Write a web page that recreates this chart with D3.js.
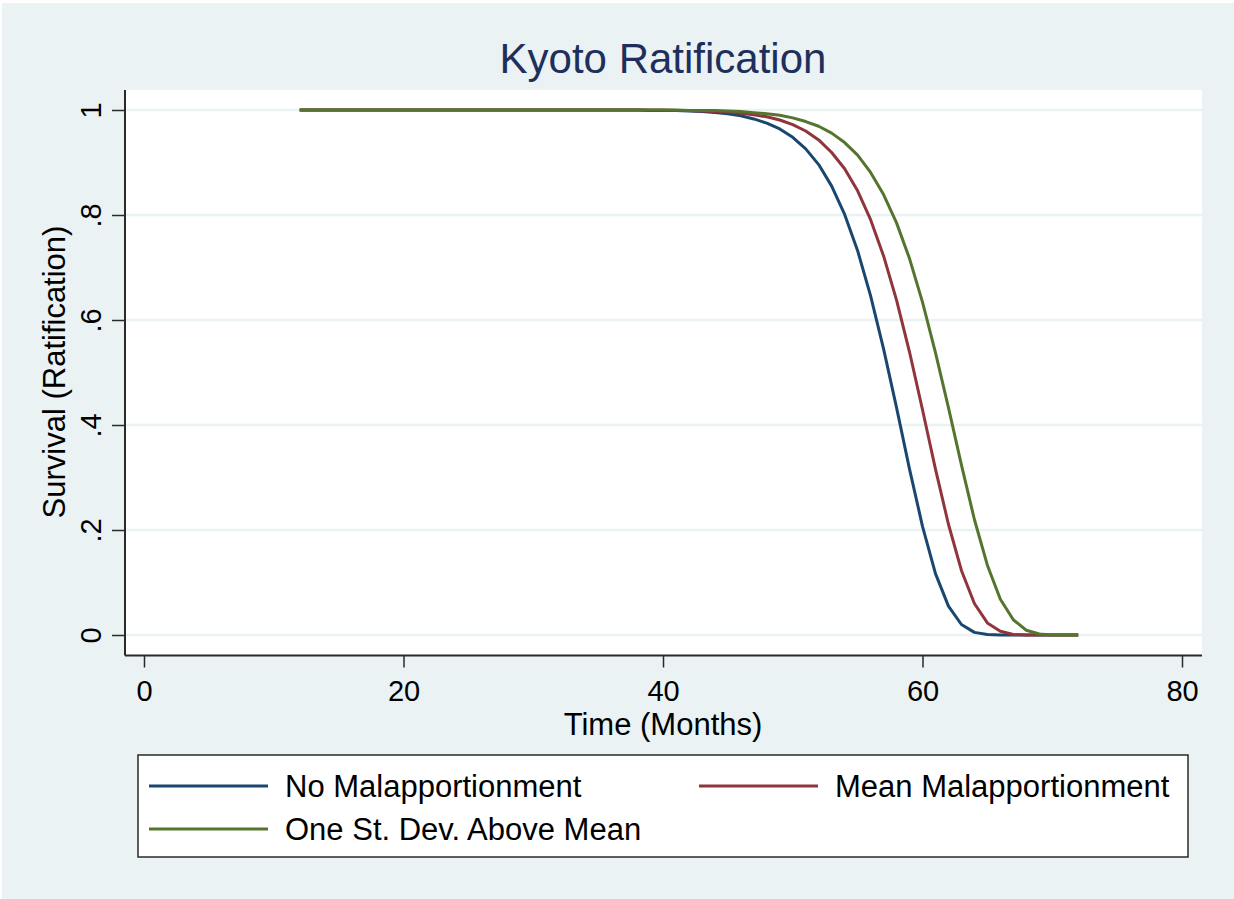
<!DOCTYPE html>
<html>
<head>
<meta charset="utf-8">
<script src="https://cdn.jsdelivr.net/npm/d3@7"></script>
<style>
  body { margin: 0; background: #fff; }
  text { font-family: "Liberation Sans", Arial, sans-serif; }
</style>
</head>
<body>
<svg id="chart" width="1234" height="899"></svg>
<script>
// months on the x axis (one point per month, 12..72)
var months = [12, 13, 14, 15, 16, 17, 18, 19, 20, 21, 22, 23, 24, 25, 26, 27, 28, 29, 30, 31,
  32, 33, 34, 35, 36, 37, 38, 39, 40, 41, 42, 43, 44, 45, 46, 47, 48, 49, 50, 51,
  52, 53, 54, 55, 56, 57, 58, 59, 60, 61, 62, 63, 64, 65, 66, 67, 68, 69, 70, 71, 72];

// survival, months 12..39 are flat at 1
var noMal = [1, 1, 1, 1, 1, 1, 1, 1, 1, 1, 1, 1, 1, 1, 1, 1, 1, 1, 1, 1,
  1, 1, 1, 1, 1, 1, 1, 0.999, 0.999, 0.999, 0.998, 0.997, 0.995, 0.993, 0.989, 0.983, 0.975, 0.964, 0.948, 0.926,
  0.896, 0.855, 0.801, 0.732, 0.646, 0.545, 0.433, 0.316, 0.207, 0.117, 0.055, 0.020, 0.005, 0.001, 0, 0, 0, 0, 0, 0, 0];
var meanMal = [1, 1, 1, 1, 1, 1, 1, 1, 1, 1, 1, 1, 1, 1, 1, 1, 1, 1, 1, 1,
  1, 1, 1, 1, 1, 1, 1, 1, 1, 0.999, 0.999, 0.998, 0.997, 0.996, 0.994, 0.991, 0.987, 0.981, 0.972, 0.960,
  0.943, 0.919, 0.888, 0.846, 0.791, 0.722, 0.638, 0.539, 0.429, 0.316, 0.211, 0.123, 0.060, 0.023, 0.007, 0.001, 0, 0, 0, 0, 0];
var oneSd = [1, 1, 1, 1, 1, 1, 1, 1, 1, 1, 1, 1, 1, 1, 1, 1, 1, 1, 1, 1,
  1, 1, 1, 1, 1, 1, 1, 1, 1, 1, 0.999, 0.999, 0.999, 0.998, 0.997, 0.995, 0.993, 0.990, 0.985, 0.978,
  0.969, 0.956, 0.938, 0.914, 0.881, 0.839, 0.785, 0.717, 0.634, 0.538, 0.433, 0.324, 0.220, 0.133, 0.068, 0.029, 0.009, 0.002, 0, 0, 0];

var seriesNames = ['No Malapportionment', 'Mean Malapportionment', 'One St. Dev. Above Mean'];
var seriesColors = ['#1a476f', '#90353b', '#55752f'];
var xTicks = [0, 20, 40, 60, 80];
var yTicks = [0, 0.2, 0.4, 0.6, 0.8, 1];
var yTickLabels = ['0', '.2', '.4', '.6', '.8', '1'];

const svg = d3.select('#chart');
const bg = '#eaf2f3';

// graph region
svg.append('rect').attr('x', 2).attr('y', 3).attr('width', 1232).attr('height', 896).attr('fill', bg);

// plot region
const plot = { left: 125, right: 1202, top: 90, bottom: 655.5 };
svg.append('rect')
  .attr('x', plot.left).attr('y', plot.top)
  .attr('width', plot.right - plot.left).attr('height', plot.bottom - plot.top)
  .attr('fill', '#fff');

const x = d3.scaleLinear().domain([0, 80]).range([144, 1182]);
const y = d3.scaleLinear().domain([0, 1]).range([635, 110]);

// gridlines
svg.append('g').selectAll('line')
  .data(yTicks)
  .join('line')
  .attr('x1', plot.left).attr('x2', plot.right)
  .attr('y1', d => y(d)).attr('y2', d => y(d))
  .attr('stroke', bg).attr('stroke-width', 2.5);

// lines
const line = d3.line().x((d, i) => x(months[i])).y(d => y(d));
[noMal, meanMal, oneSd].forEach((s, k) => {
  svg.append('path')
    .attr('d', line(s))
    .attr('fill', 'none')
    .attr('stroke', seriesColors[k])
    .attr('stroke-width', 3)
    .attr('stroke-linejoin', 'round');
});

// axes
const axisColor = '#2a2a2a';
const xAxis = svg.append('g')
  .attr('transform', `translate(0,${plot.bottom})`)
  .call(d3.axisBottom(x).tickValues(xTicks).tickSize(12).tickSizeOuter(0).tickPadding(13).tickFormat(d3.format('d')));
xAxis.select('.domain').remove();
xAxis.selectAll('line').attr('stroke', axisColor).attr('stroke-width', 1.5);
xAxis.selectAll('text').attr('font-size', 29).attr('fill', '#000').attr('font-family', '"Liberation Sans", Arial, sans-serif');
svg.append('line')
  .attr('x1', plot.left).attr('x2', plot.right)
  .attr('y1', plot.bottom).attr('y2', plot.bottom)
  .attr('stroke', axisColor).attr('stroke-width', 2);

const yAxis = svg.append('g')
  .attr('transform', `translate(${plot.left},0)`)
  .call(d3.axisLeft(y).tickValues(yTicks).tickSize(13).tickSizeOuter(0).tickFormat((d, i) => yTickLabels[i]));
yAxis.select('.domain').remove();
yAxis.selectAll('line').attr('stroke', axisColor).attr('stroke-width', 1.5);
yAxis.selectAll('text')
  .attr('x', null).attr('dy', null)
  .attr('transform', 'translate(-24,0) rotate(-90)')
  .attr('text-anchor', 'middle')
  .attr('font-size', 29).attr('fill', '#000')
  .attr('font-family', '"Liberation Sans", Arial, sans-serif');
svg.append('line')
  .attr('x1', plot.left).attr('x2', plot.left)
  .attr('y1', plot.top).attr('y2', plot.bottom)
  .attr('stroke', axisColor).attr('stroke-width', 2);

// titles
svg.append('text')
  .attr('x', 663).attr('y', 73)
  .attr('text-anchor', 'middle')
  .attr('font-size', 42).attr('fill', '#1e2f5e')
  .text('Kyoto Ratification');

svg.append('text')
  .attr('x', 663).attr('y', 735)
  .attr('text-anchor', 'middle')
  .attr('font-size', 31)
  .text('Time (Months)');

svg.append('text')
  .attr('transform', 'translate(65,372) rotate(-90)')
  .attr('text-anchor', 'middle')
  .attr('font-size', 31)
  .text('Survival (Ratification)');

// legend
svg.append('rect')
  .attr('x', 138).attr('y', 755).attr('width', 1050).attr('height', 102)
  .attr('fill', '#fff').attr('stroke', axisColor).attr('stroke-width', 1.5);

const legendPos = [{ lx: 149, ly: 786 }, { lx: 699, ly: 786 }, { lx: 149, ly: 829 }];
const legend = svg.append('g').selectAll('g')
  .data(seriesNames)
  .join('g')
  .attr('transform', (d, i) => `translate(${legendPos[i].lx},${legendPos[i].ly})`);
legend.append('line')
  .attr('x1', 0).attr('x2', 119)
  .attr('stroke', (d, i) => seriesColors[i]).attr('stroke-width', 3);
legend.append('text')
  .attr('x', 136).attr('y', 11)
  .attr('font-size', 31)
  .text(d => d);
</script>
</body>
</html>
